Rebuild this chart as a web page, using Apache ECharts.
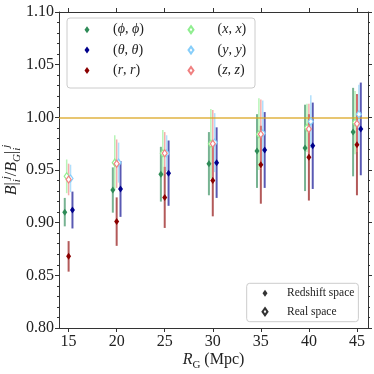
<!DOCTYPE html>
<html>
<head>
<meta charset="utf-8">
<script src="https://cdn.jsdelivr.net/npm/echarts@6/dist/echarts.min.js"></script>
<style>
  html, body { margin: 0; padding: 0; background: #fff; }
  #chart { width: 374px; height: 374px; }
</style>
</head>
<body>
<div id="chart"></div>
<script>
// smoothing radius R_G (Mpc)
var radii = [15, 20, 25, 30, 35, 40, 45];

// redshift space (filled markers)
var phiVal   = [0.910, 0.931, 0.946, 0.956, 0.968, 0.971, 0.986];
var phiErr   = [0.0135, 0.0215, 0.026, 0.030, 0.035, 0.041, 0.042];
var thetaVal = [0.912, 0.932, 0.947, 0.957, 0.969, 0.973, 0.989];
var thetaErr = [0.0175, 0.0265, 0.031, 0.0335, 0.036, 0.041, 0.044];
var rVal     = [0.868, 0.901, 0.924, 0.940, 0.955, 0.962, 0.974];
var rErr     = [0.0145, 0.023, 0.029, 0.034, 0.037, 0.041, 0.048];

// real space (open markers)
var xVal = [0.944, 0.957, 0.966, 0.975, 0.984, 0.990, 0.995];
var xErr = [0.016, 0.026, 0.022, 0.033, 0.034, 0.023, 0.030];
var yVal = [0.942, 0.957, 0.966, 0.976, 0.985, 0.996, 1.003];
var yErr = [0.013, 0.019, 0.017, 0.028, 0.031, 0.025, 0.028];
var zVal = [0.941, 0.956, 0.966, 0.975, 0.984, 0.989, 0.994];
var zErr = [0.015, 0.023, 0.020, 0.032, 0.033, 0.024, 0.027];

var refLevel = 1.0;

var FONT = '"Liberation Serif", "DejaVu Serif", serif';

// name, values, errors, colour, x shift, open marker?
var sets = [
  { name: '(ϕ, ϕ)', val: phiVal,   err: phiErr,   color: '#2e8b57', shift: -0.4, open: false },
  { name: '(θ, θ)', val: thetaVal, err: thetaErr, color: '#00008b', shift: 0.4,  open: false },
  { name: '(r, r)', val: rVal,     err: rErr,     color: '#8b0000', shift: 0,    open: false },
  { name: '(x, x)', val: xVal,     err: xErr,     color: '#90ee90', shift: -0.2, open: true },
  { name: '(y, y)', val: yVal,     err: yErr,     color: '#87cefa', shift: 0.2,  open: true },
  { name: '(z, z)', val: zVal,     err: zErr,     color: '#f08080', shift: 0,    open: true }
];

function errRender(params, api) {
  var x = api.value(0);
  var lo = api.coord([x, api.value(1)]);
  var hi = api.coord([x, api.value(2)]);
  return {
    type: 'line',
    shape: { x1: lo[0], y1: lo[1], x2: hi[0], y2: hi[1] },
    style: { stroke: api.visual('color'), lineWidth: params.seriesIndex < 3 ? 2 : 1.5, opacity: 0.65 }
  };
}

var series = [];
// error bars first so markers sit on top
sets.forEach(function (s, k) {
  series.push({
    name: 'err' + k,
    type: 'custom',
    renderItem: errRender,
    itemStyle: { color: s.color },
    encode: { x: 0, y: [1, 2] },
    z: s.open ? 3 : 2,
    silent: true,
    data: radii.map(function (r, i) {
      return [r + s.shift, s.val[i] - s.err[i], s.val[i] + s.err[i]];
    })
  });
});
sets.forEach(function (s) {
  series.push({
    name: s.name,
    type: 'scatter',
    symbol: 'diamond',
    symbolSize: [5, 7],
    z: s.open ? 5 : 4,
    itemStyle: s.open
      ? { color: '#fff', borderColor: s.color, borderWidth: 1.2, opacity: 1 }
      : { color: s.color, opacity: 1 },
    data: radii.map(function (r, i) { return [r + s.shift, s.val[i]]; })
  });
});
// reference line and legend-only entries
series.push({
  name: 'ref',
  type: 'line',
  data: [],
  markLine: {
    silent: true,
    symbol: 'none',
    label: { show: false },
    lineStyle: { color: '#daa520', opacity: 0.85, width: 1.5, type: 'solid' },
    data: [{ yAxis: refLevel }]
  },
  z: 1
});
series.push({ name: 'Redshift space', type: 'scatter', data: [], itemStyle: { color: '#000' } });
series.push({ name: 'Real space', type: 'scatter', data: [], itemStyle: { color: '#fff', borderColor: '#000', borderWidth: 0.9 } });

function mathName(name) {
  var c = name.slice(1, name.indexOf(','));
  return '{rm|(}{it|' + c + '}{rm|, }{it|' + c + '}{rm|)}';
}
var legendRich = {
  rm: { fontFamily: FONT, fontSize: 14, lineHeight: 16, color: '#222' },
  it: { fontFamily: FONT, fontSize: 14, lineHeight: 16, fontStyle: 'italic', color: '#222' }
};

function axisBase(pos) {
  return {
    position: pos,
    axisLine: { show: true, onZero: false, lineStyle: { color: '#333', width: 1 } },
    splitLine: { show: false }
  };
}

var chart = echarts.init(document.getElementById('chart'));
chart.setOption({
  animation: false,
  backgroundColor: '#fff',
  grid: { left: 59, right: 6, top: 12, bottom: 46, containLabel: false, outerBoundsMode: 'none' },
  xAxis: [
    Object.assign(axisBase('bottom'), {
      type: 'value', min: 14, max: 46.15,
      axisTick: { customValues: radii, length: 4, lineStyle: { color: '#333' } },
      axisLabel: { customValues: radii, fontFamily: FONT, fontSize: 16, color: '#222', margin: 6 },
      name: '{it|R}{sub|G}{rm| (Mpc)}',
      nameLocation: 'middle',
      nameGap: 21,
      nameMoveOverlap: false,
      nameTextStyle: {
        rich: {
          it: { fontFamily: FONT, fontSize: 16, fontStyle: 'italic', lineHeight: 22, color: '#222' },
          sub: { fontFamily: FONT, fontSize: 11, lineHeight: 12, verticalAlign: 'bottom', color: '#222' },
          rm: { fontFamily: FONT, fontSize: 16, lineHeight: 22, color: '#222' }
        }
      }
    }),
    Object.assign(axisBase('top'), {
      type: 'value', min: 14, max: 46.15,
      axisTick: { customValues: radii, length: 4, lineStyle: { color: '#333' } },
      axisLabel: { show: false }
    })
  ],
  yAxis: [
    Object.assign(axisBase('left'), {
      type: 'value', min: 0.8, max: 1.1, interval: 0.05,
      axisTick: { show: true, length: 4, lineStyle: { color: '#333' } },
      minorTick: { show: true, splitNumber: 5, length: 2, lineStyle: { color: '#333' } },
      axisLabel: {
        fontFamily: FONT, fontSize: 16, color: '#222', margin: 5,
        formatter: function (v) { return v.toFixed(2); }
      },
      name: '{it|B}{rm||}{sub|i}{sup|j}{rm|/}{it|B}{sub|G}{rm||}{sub|i}{sup|j}',
      nameLocation: 'middle',
      nameRotate: 90,
      nameGap: 36,
      nameMoveOverlap: false,
      nameTextStyle: {
        rich: {
          it: { fontFamily: FONT, fontSize: 16, fontStyle: 'italic', lineHeight: 22, color: '#222' },
          rm: { fontFamily: FONT, fontSize: 16, lineHeight: 22, color: '#222' },
          sub: { fontFamily: FONT, fontSize: 11, fontStyle: 'italic', lineHeight: 12, verticalAlign: 'bottom', color: '#222' },
          sup: { fontFamily: FONT, fontSize: 11, fontStyle: 'italic', lineHeight: 12, verticalAlign: 'top', color: '#222' }
        }
      }
    }),
    Object.assign(axisBase('right'), {
      type: 'value', min: 0.8, max: 1.1, interval: 0.05,
      axisTick: { show: true, length: 4, lineStyle: { color: '#333' } },
      minorTick: { show: true, splitNumber: 5, length: 2, lineStyle: { color: '#333' } },
      axisLabel: { show: false }
    })
  ],
  graphic: [{
    type: 'rect',
    z: 3,
    silent: true,
    shape: { x: 67, y: 18, width: 188, height: 70, r: 3 },
    style: { fill: 'rgba(255,255,255,0.8)', stroke: '#cccccc', lineWidth: 1 }
  }],
  legend: [
    {
      data: sets.slice(0, 3).map(function (s) { return { name: s.name, icon: 'diamond' }; }),
      orient: 'vertical', left: 84.5, top: 22.7, padding: 0,
      itemWidth: 5, itemHeight: 7, itemGap: 6.4, selectedMode: false, z: 6,
      formatter: mathName,
      textStyle: { padding: [0, 0, 0, 18.5], rich: legendRich }
    },
    {
      data: sets.slice(3).map(function (s) { return { name: s.name, icon: 'diamond' }; }),
      orient: 'vertical', left: 187.5, top: 22.7, padding: 0,
      itemWidth: 5, itemHeight: 7, itemGap: 6.4, selectedMode: false, z: 6,
      formatter: mathName,
      textStyle: { padding: [0, 0, 0, 19], rich: legendRich }
    },
    {
      data: [{ name: 'Redshift space', icon: 'diamond' }, { name: 'Real space', icon: 'diamond' }],
      orient: 'vertical', left: 246.7, top: 283.3, padding: [3.5, 4, 3.5, 14.8],
      itemWidth: 5, itemHeight: 7, itemGap: 5.4, selectedMode: false, z: 6,
      backgroundColor: 'rgba(255,255,255,0.8)', borderColor: '#cccccc', borderWidth: 1, borderRadius: 3,
      textStyle: { fontFamily: FONT, fontSize: 11.5, lineHeight: 13, color: '#222', padding: [0, 0, 0, 14.5] }
    }
  ],
  series: series
});
</script>
</body>
</html>
